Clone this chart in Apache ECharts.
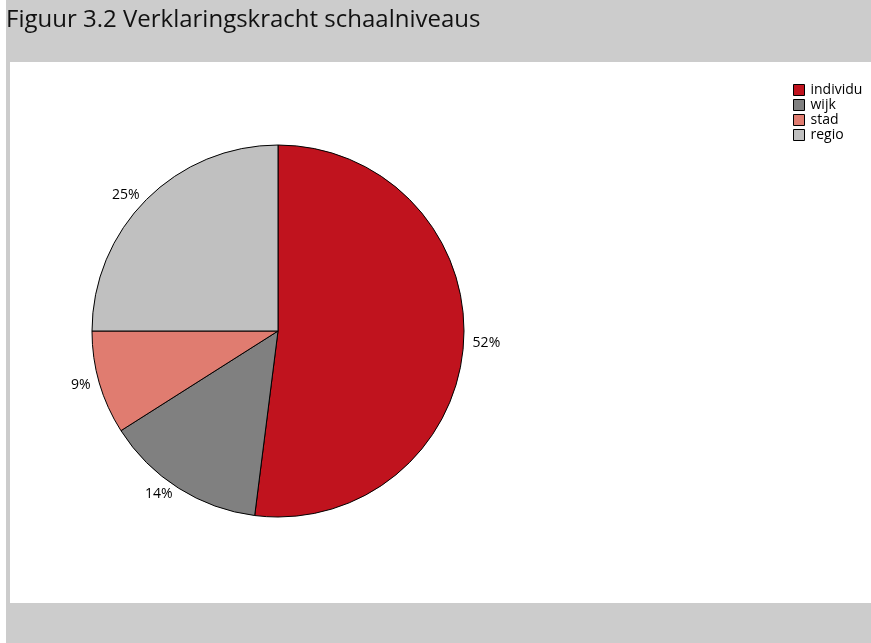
<!DOCTYPE html>
<html>
<head>
<meta charset="utf-8">
<title>Figuur 3.2</title>
<style>
  html, body { margin: 0; padding: 0; background: #ffffff; }
  #main { width: 871px; height: 643px; }
</style>
<script src="https://cdn.jsdelivr.net/npm/echarts@6/dist/echarts.min.js"></script>
</head>
<body>
<div id="main"></div>
<script>
var categories = ['individu', 'wijk', 'stad', 'regio'];
var values = [52, 14, 9, 25];
var colors = ['#c0131e', '#808080', '#e07c70', '#c0c0c0'];

var chart = echarts.init(document.getElementById('main'));

var pieData = categories.map(function (name, i) {
  return { name: name, value: values[i], itemStyle: { color: colors[i] } };
});

chart.setOption({
  animation: false,
  textStyle: { fontFamily: 'Open Sans' },
  graphic: [
    // grey frame and white plot panel
    { type: 'rect', z: -10, shape: { x: 6, y: 0, width: 865, height: 643 }, style: { fill: '#cccccc' } },
    { type: 'rect', z: -9, shape: { x: 10, y: 62, width: 861, height: 541 }, style: { fill: '#ffffff' } }
  ],
  title: {
    text: 'Figuur 3.2 Verklaringskracht schaalniveaus',
    left: 6,
    top: 8,
    padding: 0,
    textStyle: { fontFamily: 'Open Sans', fontSize: 24, fontWeight: 'normal', color: '#111111' }
  },
  legend: {
    orient: 'vertical',
    left: 788,
    top: 78,
    itemWidth: 11,
    itemHeight: 11,
    itemGap: 1,
    icon: 'rect',
    data: categories,
    itemStyle: { borderColor: '#000', borderWidth: 1 },
    textStyle: { fontFamily: 'Open Sans', fontSize: 14, color: '#000', padding: [0, 0, 0, 1] }
  },
  series: [{
    type: 'pie',
    center: [278, 331],
    radius: 186,
    startAngle: 90,
    clockwise: true,
    data: pieData,
    itemStyle: { borderColor: '#000', borderWidth: 1 },
    label: {
      show: true,
      position: 'outside',
      formatter: '{c}%',
      fontFamily: 'Open Sans',
      fontSize: 14,
      color: '#000',
      distanceToLabelLine: 2
    },
    labelLine: { show: false, length: 7, length2: 0 },
    emphasis: { disabled: true }
  }]
});
</script>
</body>
</html>
